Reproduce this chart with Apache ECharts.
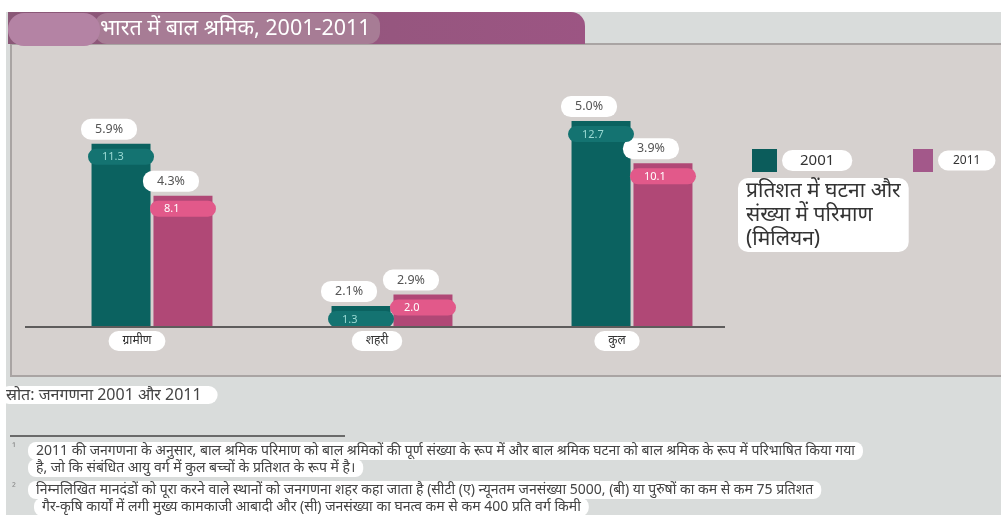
<!DOCTYPE html>
<html>
<head>
<meta charset="utf-8">
<script src="https://cdn.jsdelivr.net/npm/echarts@6/dist/echarts.min.js"></script>
<style>
  html, body { margin: 0; padding: 0; background: #ffffff; }
  #chart { width: 1001px; height: 515px; }
</style>
</head>
<body>
<div id="chart"></div>
<script>
  // data
  const categories = ['ग्रामीण', 'शहरी', 'कुल'];
  const years = ['2001', '2011'];
  const magnitude2001 = [11.3, 1.3, 12.7];   // million
  const magnitude2011 = [8.1, 2.0, 10.1];
  const incidence2001 = ['5.9%', '2.1%', '5.0%'];
  const incidence2011 = ['4.3%', '2.9%', '3.9%'];

  const FONT = '"Noto Sans", "Noto Sans Devanagari", sans-serif';
  const TEAL = '#0b6260';
  const PINK = '#b04876';

  const chart = echarts.init(document.getElementById('chart'));

  // bar with percentage pill on top
  function mainSeries(name, data, pct, color) {
    return {
      name: name,
      type: 'bar',
      xAxisIndex: 0,
      data: data,
      barWidth: 59,
      barGap: '5%',
      itemStyle: { color: color },
      label: {
        show: true,
        position: 'top',
        distance: 4,
        offset: [-12, 0],
        formatter: (p) => pct[p.dataIndex],
        fontFamily: FONT,
        fontSize: 12.5,
        color: '#555555',
        backgroundColor: '#ffffff',
        borderRadius: 10,
        padding: [4, 14, 4, 14],
      },
    };
  }

  // transparent twin bar that only carries the value pill
  function valueSeries(name, data, pillColor, textColor) {
    return {
      name: name,
      type: 'bar',
      xAxisIndex: 1,
      data: data,
      barWidth: 59,
      barGap: '5%',
      silent: true,
      itemStyle: { color: 'transparent' },
      label: {
        show: true,
        position: 'insideTop',
        distance: 7,
        formatter: (p) => '{v|' + p.value.toFixed(1) + '}',
        rich: {
          v: {
            fontFamily: FONT,
            fontSize: 11,
            lineHeight: 12,
            color: textColor,
            backgroundColor: pillColor,
            borderRadius: 9,
            width: 36,
            align: 'left',
            padding: [3, 16, 2, 14],
          },
        },
      },
    };
  }

  function note(text, top, extra) {
    return Object.assign({
      text: text,
      left: 28,
      top: top,
      textStyle: { fontFamily: FONT, fontSize: 14, fontWeight: 'normal', color: '#444444', lineHeight: 16 },
      backgroundColor: '#ffffff',
      borderRadius: 8,
      padding: [1, 8, 1, 8],
    }, extra || {});
  }

  function legendBox(name, left, fontSize, pad, color, iconW) {
    return {
      data: [{ name: name, itemStyle: { color: color } }],
      left: left,
      top: 149,
      padding: 0,
      icon: 'rect',
      itemWidth: iconW,
      itemHeight: 23,
      selectedMode: false,
      textStyle: {
        fontFamily: FONT,
        fontSize: fontSize,
        color: '#333333',
        backgroundColor: '#ffffff',
        borderRadius: 11,
        padding: pad,
      },
    };
  }

  const option = {
    backgroundColor: '#ffffff',
    animation: false,
    textStyle: { fontFamily: FONT },
    graphic: [
      // outer grey sheet
      { type: 'rect', z: -10, shape: { x: 6, y: 12, width: 995, height: 503 }, style: { fill: '#d9dcdb' } },
      // chart panel
      { type: 'rect', z: -9, shape: { x: 11, y: 44, width: 1000, height: 332 }, style: { fill: '#d6d1cf', stroke: '#a9a4a3', lineWidth: 2 } },
      // title band
      {
        type: 'rect', z: -8,
        shape: { x: 8, y: 12, width: 577, height: 32, r: [0, 14, 0, 0] },
        style: {
          fill: new echarts.graphic.LinearGradient(0, 0, 1, 0, [
            { offset: 0, color: '#8a5877' },
            { offset: 1, color: '#9c5583' },
          ]),
        },
      },
      { type: 'rect', z: -7, shape: { x: 95, y: 13, width: 285, height: 31, r: 12 }, style: { fill: '#a77c95' } },
      { type: 'rect', z: -7, shape: { x: 8, y: 13, width: 92, height: 33, r: 16 }, style: { fill: '#b483a4' } },
      // baseline
      { type: 'line', z: 5, shape: { x1: 25, y1: 327, x2: 725, y2: 327 }, style: { stroke: '#5e5c5c', lineWidth: 2 } },
      // separator above footnotes
      { type: 'line', z: 5, shape: { x1: 10, y1: 436, x2: 345, y2: 436 }, style: { stroke: '#6a6a6a', lineWidth: 2 } },
      // footnote markers
      { type: 'text', left: 12, top: 443, style: { text: '¹', fill: '#888888', fontSize: 11, fontFamily: FONT } },
      { type: 'text', left: 12, top: 482, style: { text: '²', fill: '#888888', fontSize: 11, fontFamily: FONT } },
    ],
    title: [
      {
        text: 'भारत में बाल श्रमिक, 2001-2011',
        left: 100,
        top: 18,
        textStyle: { fontFamily: FONT, fontSize: 21.5, fontWeight: 'normal', color: '#ffffff' },
        padding: 0,
      },
      {
        text: 'प्रतिशत में घटना और\nसंख्या में परिमाण\n(मिलियन)',
        left: 738,
        top: 178,
        textStyle: { fontFamily: FONT, fontSize: 21, fontWeight: 'normal', color: '#333333', lineHeight: 24 },
        backgroundColor: '#ffffff',
        borderRadius: 10,
        padding: [1, 8, 1, 8],
      },
      {
        text: 'स्रोत: जनगणना 2001 और 2011',
        left: 0,
        top: 386,
        textStyle: { fontFamily: FONT, fontSize: 16, fontWeight: 'normal', color: '#444444' },
        backgroundColor: '#ffffff',
        borderRadius: 10,
        padding: [1, 16, 1, 6],
      },
      note('2011 की जनगणना के अनुसार, बाल श्रमिक परिमाण को बाल श्रमिकों की पूर्ण संख्या के रूप में और बाल श्रमिक घटना को बाल श्रमिक के रूप में परिभाषित किया गया', 442),
      note('है, जो कि संबंधित आयु वर्ग में कुल बच्चों के प्रतिशत के रूप में है।', 459),
      note('निम्नलिखित मानदंडों को पूरा करने वाले स्थानों को जनगणना शहर कहा जाता है (सीटी (ए) न्यूनतम जनसंख्या 5000, (बी) या पुरुषों का कम से कम 75 प्रतिशत', 481),
      note('गैर-कृषि कार्यों में लगी मुख्य कामकाजी आबादी और (सी) जनसंख्या का घनत्व कम से कम 400 प्रति वर्ग किमी', 498, { left: 34 }),
    ],
    legend: [
      legendBox(years[0], 752, 15, [3, 18, 3, 18], '#0b5c5b', 25),
      legendBox(years[1], 913, 12, [4, 15, 4, 15], '#a3588a', 20),
    ],
    grid: {
      left: 32,
      width: 720,
      top: 100,
      height: 227,
    },
    xAxis: [
      {
        type: 'category',
        data: categories,
        axisLine: { show: false },
        axisTick: { show: false },
        axisLabel: {
          margin: 4,
          formatter: (v) => '{a|' + v + '}{s|}',
          rich: {
            a: {
              fontFamily: FONT,
              fontSize: 12,
              color: '#333333',
              backgroundColor: '#ffffff',
              borderRadius: 11,
              padding: [4, 14, 4, 14],
            },
            s: { width: 30 },
          },
        },
      },
      { type: 'category', data: categories, show: false },
    ],
    yAxis: {
      type: 'value',
      min: 0,
      max: 14,
      show: false,
      splitLine: { show: false },
    },
    series: [
      mainSeries(years[0], magnitude2001, incidence2001, TEAL),
      mainSeries(years[1], magnitude2011, incidence2011, PINK),
      valueSeries('v2001', magnitude2001, '#147371', '#9ad9d3'),
      valueSeries('v2011', magnitude2011, '#e2598a', '#ffffff'),
    ],
  };

  chart.setOption(option);
</script>
</body>
</html>
